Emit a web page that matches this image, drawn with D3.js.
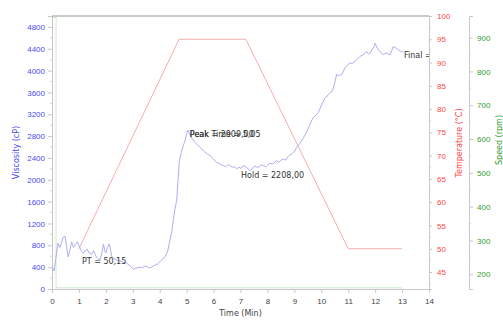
<!DOCTYPE html>
<html>
<head>
<meta charset="utf-8">
<script src="https://cdn.jsdelivr.net/npm/d3@7"></script>
<style>
  body { margin: 0; background: #fff; }
  svg { display: block; font-family: "DejaVu Sans", Verdana, sans-serif; }
</style>
</head>
<body>
<svg id="chart" width="503" height="320"></svg>
<script>
// viscosity trace [time (min), viscosity (cP)]
const viscosity = [
  [0, 410], [0.08, 330], [0.14, 560], [0.22, 840], [0.3, 760], [0.42, 950], [0.48, 970],
  [0.54, 780], [0.6, 590], [0.66, 700], [0.73, 865], [0.8, 760], [0.85, 805], [0.94, 865],
  [1.04, 750], [1.1, 690], [1.16, 655], [1.23, 700], [1.31, 730], [1.38, 660], [1.47, 640],
  [1.55, 700], [1.62, 610], [1.7, 560], [1.78, 530], [1.85, 650], [1.91, 825], [1.96, 700],
  [2.0, 660], [2.06, 760], [2.13, 825], [2.18, 700], [2.22, 595], [2.3, 560], [2.4, 530],
  [2.5, 520], [2.59, 500], [2.68, 490], [2.77, 475], [2.9, 420], [3.02, 365], [3.1, 380],
  [3.18, 390], [3.27, 400], [3.35, 390], [3.44, 420], [3.52, 410], [3.6, 390], [3.7, 400],
  [3.8, 430], [3.9, 450], [3.95, 470], [4.05, 520], [4.12, 560], [4.2, 590], [4.3, 700],
  [4.38, 895], [4.45, 1050], [4.5, 1250], [4.56, 1450], [4.63, 1620], [4.68, 2000],
  [4.73, 2350], [4.8, 2500], [4.87, 2620], [4.94, 2710], [5.0, 2850], [5.05, 2909],
  [5.12, 2830], [5.2, 2760], [5.31, 2685], [5.4, 2640], [5.48, 2600], [5.56, 2565],
  [5.65, 2520], [5.75, 2480], [5.87, 2440], [6.0, 2380], [6.11, 2320], [6.2, 2300],
  [6.3, 2270], [6.36, 2260], [6.45, 2240], [6.55, 2280], [6.61, 2260], [6.7, 2230],
  [6.78, 2240], [6.86, 2200], [6.95, 2230], [7.02, 2208], [7.1, 2260], [7.2, 2240],
  [7.28, 2200], [7.35, 2170], [7.45, 2210], [7.52, 2250], [7.6, 2230], [7.7, 2240],
  [7.78, 2270], [7.85, 2260], [7.95, 2240], [8.02, 2280], [8.1, 2300], [8.2, 2290],
  [8.28, 2330], [8.34, 2350], [8.42, 2320], [8.5, 2360], [8.59, 2380], [8.68, 2360],
  [8.75, 2420], [8.82, 2450], [8.9, 2470], [8.96, 2500], [9.02, 2530], [9.08, 2590],
  [9.16, 2640], [9.25, 2700], [9.35, 2780], [9.46, 2880], [9.55, 2980], [9.62, 3060],
  [9.7, 3140], [9.77, 3170], [9.84, 3200], [9.89, 3230], [9.95, 3300], [10.02, 3380],
  [10.08, 3440], [10.14, 3500], [10.2, 3520], [10.26, 3560], [10.32, 3590], [10.38, 3610],
  [10.45, 3680], [10.5, 3780], [10.57, 3930], [10.63, 3910], [10.7, 3920], [10.76, 3930],
  [10.82, 3990], [10.88, 4050], [10.95, 4090], [11.0, 4110], [11.07, 4140], [11.15, 4130],
  [11.25, 4170], [11.32, 4200], [11.38, 4230], [11.44, 4260], [11.52, 4280], [11.6, 4310],
  [11.69, 4350], [11.75, 4310], [11.81, 4320], [11.88, 4380], [11.95, 4430], [12.0, 4500],
  [12.06, 4430], [12.12, 4380], [12.2, 4340], [12.3, 4290], [12.36, 4310], [12.43, 4320],
  [12.5, 4300], [12.55, 4290], [12.62, 4370], [12.67, 4440], [12.75, 4420], [12.82, 4400],
  [12.86, 4380], [12.95, 4350], [13.05, 4340]
];

// temperature profile
const tempTime = [1, 4.72, 7.2, 11, 13];
const tempC = [50, 95, 95, 50, 50];

// paddle speed
const speedTime = [0, 0.15, 0.15, 13];
const speedRpm = [960, 960, 160, 160];

// tick labels
const timeTicks = [0, 1, 2, 3, 4, 5, 6, 7, 8, 9, 10, 11, 12, 13, 14];
const viscTicks = [0, 400, 800, 1200, 1600, 2000, 2400, 2800, 3200, 3600, 4000, 4400, 4800];
const tempTicks = [45, 50, 55, 60, 65, 70, 75, 80, 85, 90, 95, 100];
const speedTicks = [200, 300, 400, 500, 600, 700, 800, 900];

// annotations (anchored in time / viscosity); the two peak labels overlap as in the source
const notes = [
  { text: "PT = 50,15", t: 1.11, v: 460 },
  { text: "Peak = 2909,00", t: 5.12, v: 2780 },
  { text: "Peak Time = 5,05", t: 5.12, v: 2780 },
  { text: "Hold = 2208,00", t: 7.02, v: 2030 },
  { text: "Final = 4338,00", t: 13.07, v: 4230 }
];

const blue = "#4a4af0", red = "#ff4545", green = "#339e33", axisGray = "#c8c8c8";
const plotL = 52, plotR = 429, plotT = 16, plotB = 289, speedX = 469;

const svg = d3.select("#chart");

const x = d3.scaleLinear().domain([0, 14]).range([plotL, plotR]);
const yV = d3.scaleLinear().domain([0, 5000]).range([plotB, plotT]);
const yT = d3.scaleLinear().domain([41.35, 100]).range([plotB, plotT]);
const yS = d3.scaleLinear().domain([156.5, 964]).range([plotB, plotT]);

svg.append("clipPath").attr("id", "plot-clip")
  .append("rect").attr("x", plotL).attr("y", plotT).attr("width", plotR - plotL).attr("height", plotB - plotT);

function styleAxis(g, color) {
  g.select(".domain").attr("stroke", axisGray);
  g.selectAll(".tick line").attr("stroke", axisGray);
  g.selectAll(".tick text").attr("fill", color).attr("font-size", 8);
}

// minor ticks
function minor(g, scale, vals, x0, dx) {
  g.selectAll(null).data(vals).enter().append("line")
    .attr("x1", x0).attr("x2", x0 + dx)
    .attr("y1", d => scale(d)).attr("y2", d => scale(d))
    .attr("stroke", "#dadada");
}
minor(svg, yV, d3.range(200, 5000, 400), plotL, -2);
minor(svg, yT, d3.range(42.5, 100, 5), plotR, 2);
minor(svg, yS, d3.range(250, 950, 100), speedX, 2);

// x axis
svg.append("g")
  .attr("transform", "translate(0," + plotB + ")")
  .call(d3.axisBottom(x).tickValues(timeTicks).tickFormat(d3.format("d")).tickSize(4).tickPadding(5))
  .call(g => styleAxis(g, "#444"));

// left viscosity axis
svg.append("g")
  .attr("transform", "translate(" + plotL + ",0)")
  .call(d3.axisLeft(yV).tickValues(viscTicks).tickFormat(d3.format("d")).tickSize(4).tickPadding(3))
  .call(g => styleAxis(g, blue));

// temperature axis
svg.append("g")
  .attr("transform", "translate(" + plotR + ",0)")
  .call(d3.axisRight(yT).tickValues(tempTicks).tickFormat(d3.format("d")).tickSize(3).tickPadding(5))
  .call(g => styleAxis(g, red));

// speed axis
svg.append("g")
  .attr("transform", "translate(" + speedX + ",0)")
  .call(d3.axisRight(yS).tickValues(speedTicks).tickFormat(d3.format("d")).tickSize(4).tickPadding(4))
  .call(g => styleAxis(g, green));

// frame top
svg.append("line")
  .attr("x1", plotL).attr("x2", plotR).attr("y1", plotT).attr("y2", plotT)
  .attr("stroke", "#b8b8b8").attr("stroke-width", 1.5);

const plot = svg.append("g").attr("clip-path", "url(#plot-clip)");

// speed line (faint)
plot.append("path")
  .datum(speedTime.map((t, i) => [t, speedRpm[i]]))
  .attr("fill", "none").attr("stroke", "#5cb85c").attr("stroke-opacity", 0.3)
  .attr("d", d3.line().x(d => x(d[0])).y(d => yS(d[1])));

// temperature line
plot.append("path")
  .datum(tempTime.map((t, i) => [t, tempC[i]]))
  .attr("fill", "none").attr("stroke", "#f7adad").attr("stroke-width", 1)
  .attr("d", d3.line().x(d => x(d[0])).y(d => yT(d[1])));

// viscosity line
plot.append("path")
  .datum(viscosity)
  .attr("fill", "none").attr("stroke", "#adadf2").attr("stroke-width", 1)
  .attr("d", d3.line().x(d => x(d[0])).y(d => yV(d[1])));

// annotations
plot.selectAll("text.note").data(notes).enter().append("text")
  .attr("class", "note")
  .attr("x", d => x(d.t)).attr("y", d => yV(d.v))
  .attr("font-size", 8).attr("fill", "#333")
  .text(d => d.text);

// axis titles
svg.append("text")
  .attr("transform", "translate(19," + ((plotT + plotB) / 2) + ") rotate(-90)")
  .attr("text-anchor", "middle").attr("font-size", 8).attr("fill", blue)
  .text("Viscosity  (cP)");

svg.append("text")
  .attr("transform", "translate(462,143) rotate(-90)")
  .attr("text-anchor", "middle").attr("font-size", 8).attr("fill", red)
  .text("Temperature  (°C)");

svg.append("text")
  .attr("transform", "translate(502,140) rotate(-90)")
  .attr("text-anchor", "middle").attr("font-size", 8).attr("fill", green)
  .text("Speed  (rpm)");

svg.append("text")
  .attr("x", (plotL + plotR) / 2).attr("y", 316)
  .attr("text-anchor", "middle").attr("font-size", 8).attr("fill", "#444")
  .text("Time  (Min)");
</script>
</body>
</html>
